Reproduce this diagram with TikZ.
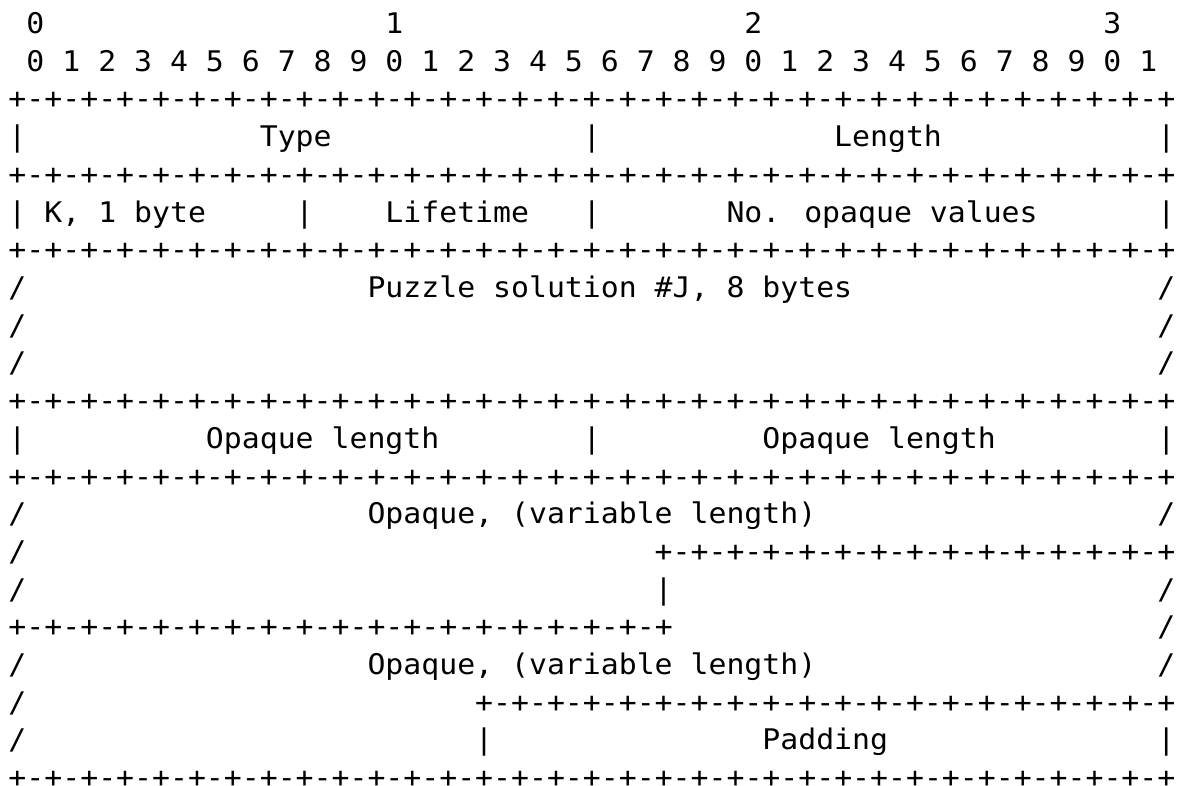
\documentclass[tikz,border=0pt]{standalone}
\usepackage{fontspec}
\newfontfamily\asciifont[FakeStretch=1.05]{DejaVu Sans Mono}
\usetikzlibrary{positioning}

% one run of +-+-...+ with n dashes
\newcommand{\dashrow}[1]{\foreach \i in {1,...,#1}{+-}+}

\begin{document}
\begin{tikzpicture}[
      x=8.975pt, y=-18.85pt,
      cell/.style={anchor=base west, inner sep=0pt, outer sep=0pt,
        font={\asciifont\fontsize{14.2pt}{18pt}\selectfont}}
    ]
    \useasboundingbox (0pt,0pt) rectangle (592pt,-393pt);

    \begin{scope}[shift={(4.25pt,-16.8pt)}]
    % bit numbers
    \foreach \d in {0,...,3}
      \node[cell] (dec\d) at (1+20*\d,0) {\d};
    \foreach \b [evaluate=\b as \u using {int(mod(\b,10))}] in {0,...,31}
      \node[cell] (bit\b) at (1+2*\b,1) {\u};

    % full-width borders
    \foreach \r in {2,4,6,10,12,20}
      \node[cell] (rule\r) at (0,\r) {\dashrow{32}};
    % partial borders
    \node[cell] (rule14) at (36,14) {\dashrow{14}};
    \node[cell] (rule16) at (0,16) {\dashrow{18}};
    \node[cell] (rule18) at (26,18) {\dashrow{19}};

    % field separators
    \foreach \c/\r in {0/3,32/3,64/3, 0/5,16/5,32/5,64/5, 0/11,32/11,64/11,
                       36/15, 26/19,64/19}
      \node[cell] (bar-\c-\r) at (\c,\r) {|};
    \foreach \c/\r in {0/7,64/7, 0/8,64/8, 0/9,64/9, 0/13,64/13, 0/14,
                       0/15,64/15, 64/16, 0/17,64/17, 0/18, 0/19}
      \node[cell] (cont-\c-\r) at (\c,\r) {/};

    % field names
    \node[cell] (type) at (14,3) {Type};
    \node[cell] (length) at (46,3) {Length};
    \node[cell] (kbyte) at (2,5) {K, 1 byte};
    \node[cell] (lifetime) at (21,5) {Lifetime};
    \node[cell] (numopaque) at (40,5) {No. opaque values};
    \node[cell] (puzzle) at (20,7) {Puzzle solution \#J, 8 bytes};
    \node[cell] (oplenA) at (11,11) {Opaque length};
    \node[cell] (oplenB) at (42,11) {Opaque length};
    \node[cell] (opaqueA) at (20,13) {Opaque, (variable length)};
    \node[cell] (opaqueB) at (20,17) {Opaque, (variable length)};
    \node[cell] (padding) at (42,19) {Padding};
    \end{scope}
  \end{tikzpicture}
\end{document}
